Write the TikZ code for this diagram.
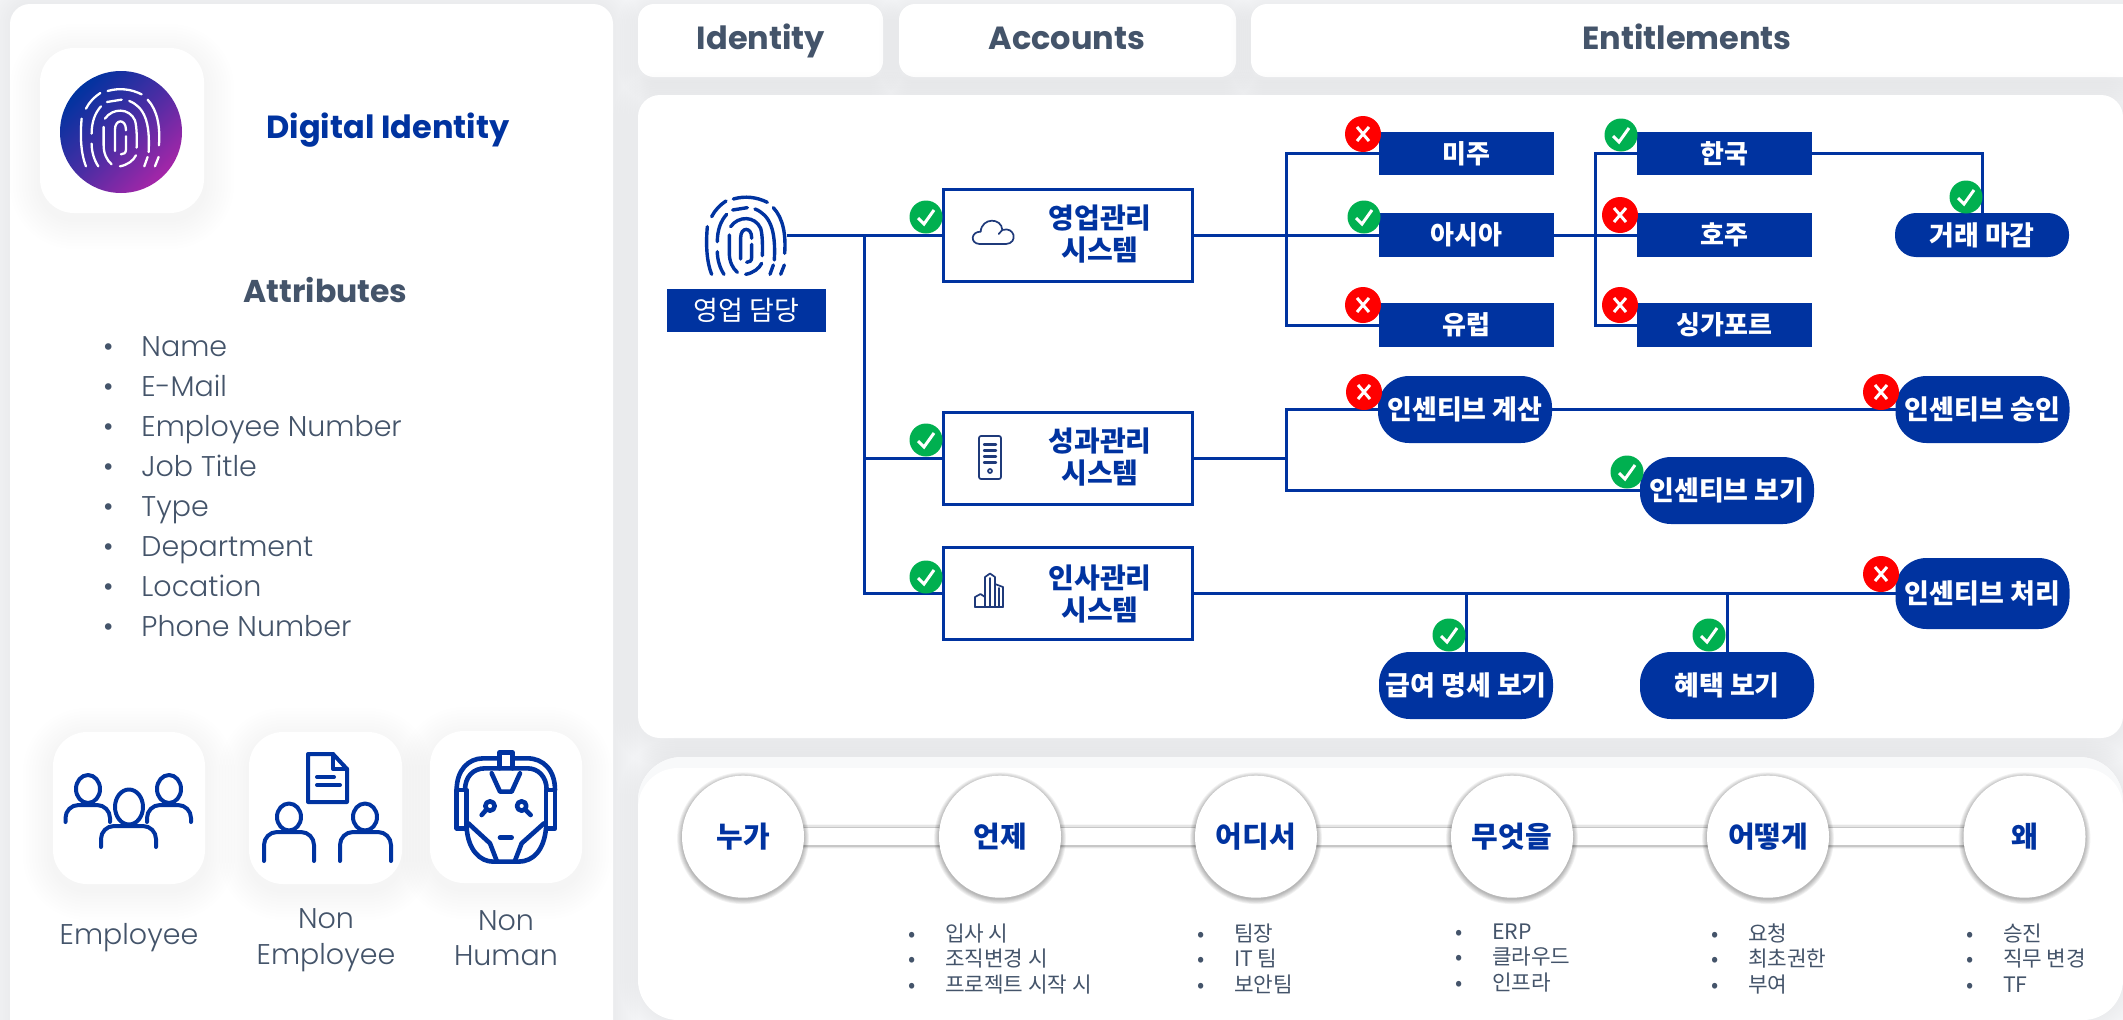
\documentclass[tikz,border=0pt]{standalone}
\usepackage{fontspec}
\setmainfont{Poppins}
\newfontfamily\poplight{Poppins Light}
\newfontfamily\popsemi{Poppins SemiBold}
\newfontfamily\kr{Noto Sans CJK KR}
\usetikzlibrary{calc}
\definecolor{ibm}{HTML}{0033A0}
\definecolor{slate}{HTML}{44546A}
\definecolor{navy}{HTML}{1F3A7A}
\definecolor{okg}{HTML}{00B050}
\definecolor{nored}{HTML}{FF0000}
\definecolor{pagebg}{HTML}{F5F6F8}
\definecolor{fpur}{HTML}{A526A8}
\definecolor{faint}{HTML}{F8F9FA}
\pgfdeclarelayer{back}
\pgfdeclarelayer{mid}
\pgfsetlayers{back,mid,main}
% soft panel: x1 y1 x2 y2 radius spread-step dy opacity
\newcommand\softpanel[8]{%
  \foreach \k in {1,...,10}{%
    \pgfmathsetmacro\off{\k*#6}%
    \pgfmathsetmacro\rad{#5+\off}%
    \fill[black,opacity=#8,rounded corners=\rad pt] (#1-\off,#2-\off+#7) rectangle (#3+\off,#4+\off+#7);
  }%
  \fill[white,rounded corners=#5pt] (#1,#2) rectangle (#3,#4);
}
\newcommand\fprint[4]{%
  \begin{scope}[shift={(#1,#2)},x=.3333pt,y=-.3333pt,draw=#3,line width=#4,line cap=round]
    \draw (52,125) .. controls (48,170) and (48,225) .. (65,268);
    \draw (65,95) .. controls (75,75) and (90,60) .. (108,48);
    \draw (130,42) .. controls (165,32) and (200,36) .. (232,52);
    \draw (250,68) .. controls (280,100) and (288,150) .. (284,205);
    \draw (283,240) -- (272,268);
    \draw (82,200) .. controls (82,225) and (90,250) .. (102,268);
    \draw (82,170) .. controls (82,135) and (92,108) .. (110,88);
    \draw (128,75) -- (172,68);
    \draw (195,72) .. controls (240,90) and (258,135) .. (253,225);
    \draw (250,240) -- (240,268);
    \draw (118,150) -- (118,205) .. controls (118,230) and (128,250) .. (142,262);
    \draw (122,125) .. controls (145,92) and (195,92) .. (212,130) .. controls (218,150) and (218,190) .. (217,212);
    \draw (167,268) .. controls (190,264) and (208,250) .. (215,235);
    \draw (152,222) -- (152,158) .. controls (152,125) and (185,125) .. (185,158) -- (185,160);
    \draw (185,178) -- (185,218) .. controls (185,228) and (178,232) .. (170,232);
  \end{scope}}
\newcommand\persona[8]{%
  \draw (#1,#2) ellipse [x radius=#3,y radius=#4];
  \draw[rounded corners=13pt] (#5,#8) -- (#5,#7) -- (#6,#7) -- (#6,#8);}
\tikzset{
  wire/.style={draw=ibm,line width=3pt},
  plain/.style={inner sep=0pt,outer sep=0pt},
  sysbox/.style={plain,draw=ibm,line width=3pt,fill=white,minimum width=249pt,minimum height=92pt},
  systext/.style={plain,text=ibm,align=center,font=\kr\bfseries\fontsize{28}{32}\selectfont},
  region/.style={plain,fill=ibm,text=white,minimum width=175pt,minimum height=43.5pt,font=\kr\bfseries\fontsize{26}{30}\selectfont},
  pill/.style={plain,fill=ibm,text=white,minimum width=174pt,rounded corners=#1,font=\kr\bfseries\fontsize{27}{30}\selectfont},
  okb/.style={plain,circle,fill=okg,minimum size=33pt,path picture={\draw[white,line width=3pt]
     ([shift={(-8,1)}]path picture bounding box.center) -- ([shift={(-2,7)}]path picture bounding box.center) -- ([shift={(8,-7)}]path picture bounding box.center);}},
  nob/.style={plain,circle,fill=nored,minimum size=36pt,path picture={\draw[white,line width=3pt]
     ([shift={(-6,-7)}]path picture bounding box.center) -- ([shift={(6,7)}]path picture bounding box.center)
     ([shift={(6,-7)}]path picture bounding box.center) -- ([shift={(-6,7)}]path picture bounding box.center);}},
  tabtext/.style={plain,anchor=base,text=slate,font=\bfseries\fontsize{32}{36}\selectfont},
  qcirc/.style={plain,circle,fill=white,minimum size=122pt,text=ibm,font=\kr\bfseries\fontsize{29}{32}\selectfont},
  qlist/.style={plain,anchor=north west,text=slate,align=left,font=\kr\fontsize{21.3}{25.5}\selectfont},
  attlist/.style={plain,anchor=north west,text=slate,align=left,font=\poplight\fontsize{28.5}{40}\selectfont},
  plabel/.style={plain,text=slate,align=center,font=\poplight\fontsize{28.5}{35.5}\selectfont},
  icon/.style={draw=ibm,line width=4pt,line cap=round,line join=round},
  thin icon/.style={draw=navy,line width=1.7pt,line join=round,line cap=round}
}
\newcommand\qb[1]{\makebox[37pt][l]{•}#1}
\newcommand\ab[1]{\makebox[38.5pt][l]{•}#1}
\begin{document}
\begin{tikzpicture}[x=1pt,y=-1pt]
\useasboundingbox (0,0) rectangle (2123,1020);
\begin{pgfonlayer}{back}
  \fill[pagebg] (0,0) rectangle (2123,1020);
  \softpanel{10}{4}{613}{1040}{20}{2.5}{0}{.003}
  \softpanel{638}{4}{883}{77}{16}{2}{4}{.003}
  \softpanel{899}{4}{1236}{77}{16}{2}{4}{.003}
  \softpanel{1251}{4}{2140}{77}{16}{2}{4}{.003}
  \softpanel{638}{95}{2123}{738}{22}{2.5}{2}{.004}
  \softpanel{638}{757}{2123}{1020}{44}{2}{0}{.002}
  \fill[faint,rounded corners=44pt] (638,757) rectangle (2123,1020);
  \fill[white,rounded corners=40pt] (638,768) rectangle (2123,1020);
  % tiles
  \softpanel{40}{48}{204}{213}{34}{3}{6}{.004}
  \softpanel{53}{732}{205}{884}{34}{3}{6}{.004}
  \softpanel{249}{732}{402}{884}{34}{3}{6}{.004}
  \softpanel{430}{731}{582}{883}{34}{3}{6}{.004}
\end{pgfonlayer}
% left column
\shade[top color=ibm,bottom color=fpur,middle color=ibm!55!fpur,shading angle=45] (121,132) circle [radius=61];
\fprint{64.3}{77}{white}{2.3pt}
\node[plain,anchor=base,text=ibm,font=\bfseries\fontsize{32}{36}\selectfont] (dtitle) at (388,138) {Digital Identity};
\node[tabtext,font=\bfseries\fontsize{31.5}{34}\selectfont] (attr) at (325.5,302) {Attributes};
\node[attlist] (attrs) at (103,337) {\ab{Name}\\\ab{E-Mail}\\\ab{Employee Number}\\\ab{Job Title}\\\ab{Type}\\\ab{Department}\\\ab{Location}\\\ab{Phone Number}};
\begin{scope}[icon]
  \persona{88}{789}{12}{14}{65.5}{110}{805}{822}
  \persona{169}{789}{12}{14}{147}{191}{805}{822}
  \persona{129}{807}{14}{17.5}{101}{156}{826}{847}
  \persona{289}{817}{12}{13.5}{264}{314}{832}{861}
  \persona{365}{817}{12}{13.5}{340}{391}{832}{861}
  \draw (308,754) -- (333,754) -- (347,769) -- (347,802) -- (308,802) -- cycle;
  \draw (333,754) -- (333,769) -- (347,769);
  \draw (317,777) -- (334,777) (317,785) -- (340,785);
\end{scope}
\begin{scope}[shift={(440,740)},x=.3333pt,y=-.3333pt,icon,line width=4.6pt]
  \draw (50,150) .. controls (50,90) and (85,55) .. (130,55) -- (178,55);
  \draw (218,55) -- (262,55) .. controls (310,55) and (345,90) .. (345,150);
  \draw (75,150) .. controls (75,110) and (100,85) .. (135,85) -- (262,85) .. controls (295,85) and (320,110) .. (320,150);
  \draw (178,85) -- (178,38) -- (218,38) -- (218,85);
  \draw (50,150) -- (50,265) -- (80,265) -- (80,150) -- cycle;
  \draw (345,150) -- (345,265) -- (318,265) -- (318,150) -- cycle;
  \draw (80,265) .. controls (85,330) and (120,365) .. (160,365) -- (235,365) .. controls (280,365) and (312,330) .. (318,265);
  \draw (155,100) -- (180,155) -- (215,155) -- (240,100);
  \draw (150,198) circle [radius=14];
  \draw (245,198) circle [radius=14];
  \draw (140,208) -- (125,225);
  \draw (255,208) -- (272,225);
  \draw (180,293) -- (215,293);
  \draw (85,250) -- (150,310) -- (170,362);
  \draw (312,250) -- (245,310) -- (225,362);
\end{scope}
\node[plabel] (pemp) at (129,938) {Employee};
\node[plabel] (pnon) at (326,940) {Non\\Employee};
\node[plabel] (pnh) at (506,938) {Non\\Human};
% tabs
\node[tabtext] (t1) at (761,49) {Identity};
\node[tabtext] (t2) at (1067,49) {Accounts};
\node[tabtext] (t3) at (1687,49) {Entitlements};
% main diagram nodes
\node[plain,minimum width=79pt,minimum height=79pt] (fp) at (747,235) {};
\fprint{690}{185}{ibm}{3.4pt}
\node[plain,fill=ibm,text=white,minimum width=159pt,minimum height=43pt,font=\kr\fontsize{27}{30}\selectfont] (role) at (746.5,310.5) {영업 담당};
\node[sysbox] (s1) at (1068,235) {};
\node[sysbox] (s2) at (1068,458.5) {};
\node[sysbox] (s3) at (1068,593.5) {};
\node[systext] (s1t) at (1100,234) {영업관리\\시스템};
\node[systext] (s2t) at (1100,457) {성과관리\\시스템};
\node[systext] (s3t) at (1100,594) {인사관리\\시스템};
\node[region] (mi) at (1466.5,153.5) {미주};
\node[region] (as) at (1466.5,235) {아시아};
\node[region] (eu) at (1466.5,325) {유럽};
\node[region] (kr) at (1724.5,153.5) {한국};
\node[region] (au) at (1724.5,235) {호주};
\node[region] (sg) at (1724.5,325) {싱가포르};
\node[pill=21pt,minimum height=44pt] (close) at (1982,235) {거래 마감};
\node[pill=31pt,minimum height=67pt] (calc) at (1465,409.5) {인센티브 계산};
\node[pill=31pt,minimum height=67pt] (appr) at (1982.5,409.5) {인센티브 승인};
\node[pill=31pt,minimum height=67pt] (view) at (1727,490.5) {인센티브 보기};
\node[pill=31pt,minimum height=71pt] (proc) at (1982.5,593.5) {인센티브 처리};
\node[pill=31pt,minimum height=67pt] (pay) at (1466,685.5) {급여 명세 보기};
\node[pill=31pt,minimum height=67pt] (ben) at (1727,685.5) {혜택 보기};
% badges
\node[okb] (b1) at (926,217) {};
\node[okb] (b2) at (926,440) {};
\node[okb] (b3) at (926,577) {};
\node[nob] (b4) at (1363,134) {};
\node[okb] (b5) at (1364,217) {};
\node[nob] (b6) at (1363,305) {};
\node[okb] (b7) at (1621,135) {};
\node[nob] (b8) at (1620,215) {};
\node[nob] (b9) at (1620,305) {};
\node[okb] (b10) at (1966,197) {};
\node[nob] (b11) at (1364,392) {};
\node[nob] (b12) at (1881,392) {};
\node[okb] (b13) at (1627,472) {};
\node[nob] (b14) at (1881,574) {};
\node[okb] (b15) at (1449,635) {};
\node[okb] (b16) at (1709,635) {};
% system icons
\begin{scope}[shift={(920,190)},x=.3333pt,y=-.3333pt,thin icon]
  \draw (178,162) .. controls (150,160) and (152,125) .. (182,125) .. controls (185,82) and (245,82) .. (247,120) .. controls (285,108) and (295,160) .. (258,162) -- cycle;
  \draw (236,132) -- (247,120);
\end{scope}
\begin{scope}[thin icon]
  \draw[rounded corners=2pt] (979,436) rectangle (1001,479);
  \draw[line width=2.4pt] (984,444.5) -- (996,444.5) (984,450.5) -- (996,450.5) (984,456.5) -- (996,456.5) (984,462.5) -- (996,462.5);
  \draw (990,471) circle [radius=2];
  \draw (975,607) -- (1003,607);
  \draw (975,607) -- (975,597) -- (980.5,594) -- (985,597) -- (985,607);
  \draw (985,607) -- (985,577) -- (990,573.5) -- (995,577) -- (995,607);
  \draw (995,584) -- (1003,587) -- (1003,607);
  \draw (990,578) -- (990,607) (999,588) -- (999,607);
\end{scope}
% question row
\node[qcirc] (w1) at (743,836.7) {누가};
\node[qcirc] (w2) at (1000,836.7) {언제};
\node[qcirc] (w3) at (1256,836.7) {어디서};
\node[qcirc] (w4) at (1512,836.7) {무엇을};
\node[qcirc] (w5) at (1768,836.7) {어떻게};
\node[qcirc] (w6) at (2024.5,836.7) {왜};
\node[qlist] (l2) at (908,923.5) {\qb{입사 시}\\\qb{조직변경 시}\\\qb{프로젝트 시작 시}};
\node[qlist] (l3) at (1197,923.5) {\qb{팀장}\\\qb{IT 팀}\\\qb{보안팀}};
\node[qlist] (l4) at (1455,923.5) {\qb{ERP}\\\qb{클라우드}\\\qb{인프라}};
\node[qlist] (l5) at (1711,923.5) {\qb{요청}\\\qb{최초권한}\\\qb{부여}};
\node[qlist] (l6) at (1966,923.5) {\qb{승진}\\\qb{직무 변경}\\\qb{TF}};
% connectors (behind nodes)
\begin{pgfonlayer}{mid}
  \coordinate (trunk) at (864.5,235);
  \coordinate (r1) at (1286,235);
  \coordinate (r2) at (1595,235);
  \coordinate (r3) at (1286,458.5);
  \draw[wire] (fp.east) -- (s1.west);
  \draw[wire] (trunk) |- (s3.west);
  \draw[wire] (trunk |- s2.west) -- (s2.west);
  \draw[wire] (s1.east) -- (as.west);
  \draw[wire] (mi.west) -| (r1) |- (eu.west);
  \draw[wire] (as.east) -- (au.west);
  \draw[wire] (kr.west) -| (r2) |- (sg.west);
  \draw[wire] (kr.east) -| (close.north);
  \draw[wire] (s2.east) -- (r3);
  \draw[wire] (calc.west) -| (r3) |- (view.west);
  \draw[wire] (calc.east) -- (appr.west);
  \draw[wire] (s3.east) -- (proc.west);
  \draw[wire] (pay.north) -- (pay.north |- s3.east);
  \draw[wire] (ben.north) -- (ben.north |- s3.east);
  \foreach \a/\b in {w1/w2,w2/w3,w3/w4,w4/w5,w5/w6}{
    \draw[line width=25pt,black,opacity=.03] (\a.center) -- (\b.center);
    \draw[line width=22.5pt,black,opacity=.07] (\a.center) -- (\b.center);
    \draw[line width=20pt,black!22] (\a.center) -- (\b.center);
    \draw[line width=17.5pt,white] (\a.center) -- (\b.center);
  }
  \foreach \n in {w1,w2,w3,w4,w5,w6}{
    \foreach \k in {1,...,6}{
      \fill[black,opacity=.05] (\n.center) ++(0,1.5) circle [radius=60.5+\k*.9];
    }
  }
\end{pgfonlayer}
\end{tikzpicture}
\end{document}
